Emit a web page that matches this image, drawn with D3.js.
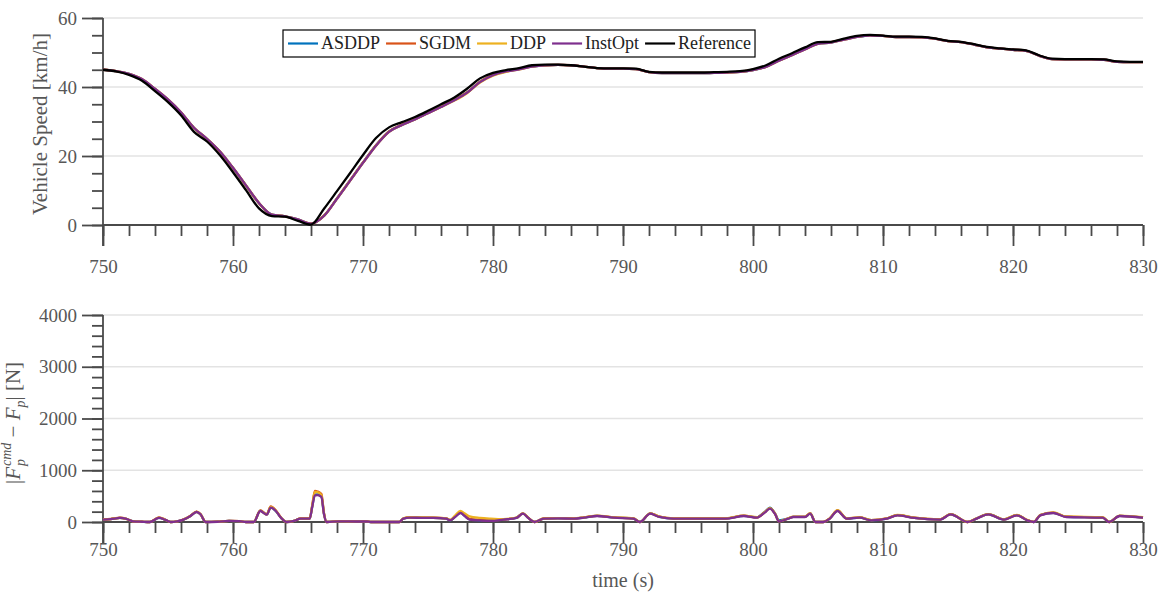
<!DOCTYPE html>
<html>
<head>
<meta charset="utf-8">
<script src="https://cdn.jsdelivr.net/npm/d3@7/dist/d3.min.js"></script>
<style>
  html, body { margin: 0; padding: 0; background: #fff; }
  svg { display: block; font-family: "Liberation Serif", "Times New Roman", serif; }
</style>
</head>
<body>
<svg id="chart" width="1166" height="593"></svg>
<script>
// ---- data ---------------------------------------------------------------
const seriesNames = ["ASDDP", "SGDM", "DDP", "InstOpt", "Reference"];
const seriesColors = ["#0072BD", "#D95319", "#EDB120", "#7E2F8E", "#000000"];

const xTicks = [750, 760, 770, 780, 790, 800, 810, 820, 830];
const speedTicks = [0, 20, 40, 60];
const forceTicks = [0, 1000, 2000, 3000, 4000];

// speed samples, one per second from 750 s to 830 s [km/h]
const speedTime = d3.range(750, 831, 1);

const speedReference = [
  45.0, 44.5, 43.5, 41.8, 38.8, 35.6, 31.8, 27.0, 24.2, 20.2,
  15.3, 10.1, 4.8, 2.6, 2.4, 1.2, 0.1, 4.7, 9.8, 15.0,
  20.3, 25.2, 28.3, 29.8, 31.3, 33.1, 35.0, 36.9, 39.5, 42.5,
  44.1, 44.9, 45.5, 46.3, 46.5, 46.5, 46.3, 45.9, 45.5, 45.4,
  45.4, 45.3, 44.4, 44.2, 44.2, 44.2, 44.2, 44.3, 44.4, 44.6,
  45.2, 46.3, 48.2, 49.8, 51.5, 53.0, 53.1, 54.0, 54.8, 55.1,
  54.9, 54.6, 54.6, 54.5, 54.1, 53.4, 53.1, 52.4, 51.6, 51.2,
  50.9, 50.6, 49.2, 48.2, 48.1, 48.1, 48.1, 48.0, 47.4, 47.3,
  47.3
];
const speedInstOpt = [
  45.0, 44.6, 43.8, 42.3, 39.5, 36.4, 32.7, 28.2, 25.0, 21.3,
  16.6, 11.5, 6.4, 3.0, 2.5, 1.6, 0.4, 2.6, 7.6, 12.8,
  18.0, 23.0, 27.0, 29.0, 30.6, 32.4, 34.2, 36.1, 38.3, 41.4,
  43.4, 44.5, 45.1, 45.9, 46.3, 46.4, 46.3, 45.9, 45.5, 45.3,
  45.3, 45.2, 44.3, 44.0, 44.0, 44.0, 44.0, 44.1, 44.2, 44.4,
  44.9, 45.8, 47.6, 49.2, 50.9, 52.5, 52.9, 53.7, 54.5, 54.9,
  54.8, 54.5, 54.5, 54.4, 54.0, 53.3, 53.0, 52.3, 51.5, 51.1,
  50.8, 50.5, 49.1, 48.1, 48.0, 48.0, 48.0, 47.9, 47.3, 47.2,
  47.2
];
const speedASDDP = [
  45.0, 44.6, 43.8, 42.2, 39.4, 36.3, 32.6, 28.1, 24.9, 21.2,
  16.5, 11.4, 6.3, 3.0, 2.5, 1.6, 0.4, 2.7, 7.7, 12.9,
  18.1, 23.1, 27.1, 29.0, 30.7, 32.5, 34.3, 36.2, 38.4, 41.5,
  43.5, 44.5, 45.2, 45.9, 46.3, 46.4, 46.3, 45.9, 45.5, 45.3,
  45.3, 45.2, 44.3, 44.0, 44.0, 44.0, 44.0, 44.1, 44.2, 44.4,
  44.9, 45.9, 47.7, 49.3, 51.0, 52.6, 52.9, 53.8, 54.5, 54.9,
  54.8, 54.5, 54.5, 54.4, 54.0, 53.3, 53.0, 52.3, 51.5, 51.1,
  50.8, 50.5, 49.1, 48.1, 48.0, 48.0, 48.0, 47.9, 47.3, 47.2,
  47.2
];
const speedSGDM = [
  45.0, 44.6, 43.7, 42.2, 39.4, 36.3, 32.6, 28.1, 24.9, 21.2,
  16.5, 11.4, 6.3, 2.9, 2.5, 1.5, 0.4, 2.7, 7.7, 12.9,
  18.1, 23.1, 27.1, 29.1, 30.7, 32.5, 34.3, 36.2, 38.4, 41.5,
  43.5, 44.6, 45.2, 46.0, 46.3, 46.4, 46.3, 45.9, 45.5, 45.3,
  45.3, 45.2, 44.3, 44.1, 44.1, 44.1, 44.1, 44.1, 44.2, 44.4,
  45.0, 45.9, 47.7, 49.3, 51.0, 52.6, 53.0, 53.8, 54.6, 55.0,
  54.8, 54.5, 54.5, 54.4, 54.0, 53.3, 53.0, 52.3, 51.5, 51.1,
  50.8, 50.5, 49.1, 48.1, 48.0, 48.0, 48.0, 47.9, 47.3, 47.2,
  47.2
];
const speedDDP = [
  45.0, 44.6, 43.8, 42.3, 39.5, 36.4, 32.7, 28.2, 25.0, 21.3,
  16.6, 11.5, 6.4, 3.0, 2.5, 1.6, 0.4, 2.6, 7.6, 12.8,
  18.0, 23.0, 27.0, 29.0, 30.6, 32.4, 34.2, 36.0, 38.2, 41.3,
  43.3, 44.4, 45.1, 45.9, 46.3, 46.4, 46.3, 45.9, 45.5, 45.3,
  45.3, 45.2, 44.3, 44.0, 44.0, 44.0, 44.0, 44.1, 44.2, 44.4,
  44.9, 45.8, 47.6, 49.2, 50.9, 52.5, 52.9, 53.7, 54.5, 54.9,
  54.8, 54.5, 54.5, 54.4, 54.0, 53.3, 53.0, 52.3, 51.5, 51.1,
  50.8, 50.5, 49.1, 48.1, 48.0, 48.0, 48.0, 47.9, 47.3, 47.2,
  47.2
];

// force tracking error |Fp_cmd - Fp| [N], sampled at uneven instants [s]
const forceTime = [
  750.0, 750.6, 751.3, 751.8, 752.3, 753.0, 753.6, 754.3, 754.8, 755.2,
  755.7, 756.2, 756.7, 757.2, 757.5, 757.9, 758.8, 759.7, 760.5, 761.0,
  761.6, 762.1, 762.6, 762.9, 763.3, 763.7, 764.1, 764.7, 765.2, 765.9,
  766.1, 766.3, 766.5, 766.8, 767.0, 767.2, 768.2, 769.5, 770.3, 770.6,
  772.8, 773.1, 773.6, 774.5, 775.4, 776.4, 776.7, 777.1, 777.5, 777.8,
  778.2, 779.0, 779.8, 780.8, 781.8, 782.3, 782.7, 783.2, 783.9, 785.0,
  786.2, 787.0, 788.0, 789.3, 790.8, 791.3, 792.1, 792.8, 793.9, 797.9,
  799.3, 800.3, 800.9, 801.3, 801.7, 802.0, 802.7, 803.1, 804.0, 804.4,
  804.8, 805.4, 805.9, 806.5, 807.2, 808.2, 809.1, 810.3, 811.1, 812.4,
  814.4, 815.2, 816.5, 817.2, 818.1, 819.3, 820.3, 821.1, 821.6, 822.1,
  823.1, 824.1, 826.9, 827.4, 828.2, 830.0
];
const forceASDDP = [
  48, 57, 80, 58, 15, 5, 0, 80, 42, 0,
  12, 48, 112, 196, 148, 0, 6, 22, 14, 0,
  0, 218, 145, 282, 210, 78, 0, 22, 66, 64,
  305, 530, 535, 495, 155, 0, 14, 11, 9, 0,
  0, 67, 86, 82, 80, 66, 34, 104, 180, 125,
  50, 33, 24, 48, 80, 165, 82, 0, 66, 72,
  66, 86, 118, 86, 66, 0, 165, 100, 66, 66,
  120, 90, 195, 275, 160, 30, 66, 98, 98, 165,
  0, 0, 66, 218, 66, 86, 34, 66, 132, 80,
  48, 150, 0, 66, 150, 48, 132, 34, 0, 132,
  178, 100, 86, 0, 118, 86
];
const forceSGDM = [
  50, 58, 82, 62, 14, 6, 0, 88, 44, 0,
  12, 50, 115, 200, 152, 0, 6, 22, 16, 0,
  0, 225, 150, 300, 222, 84, 0, 22, 68, 68,
  330, 600, 590, 540, 170, 0, 15, 12, 11, 0,
  0, 68, 88, 84, 82, 68, 36, 110, 190, 140,
  60, 40, 28, 50, 82, 168, 84, 0, 68, 74,
  68, 88, 120, 88, 68, 0, 168, 102, 68, 68,
  122, 88, 190, 270, 158, 14, 68, 100, 100, 168,
  0, 0, 68, 222, 68, 88, 36, 68, 134, 82,
  50, 152, 0, 68, 152, 50, 134, 36, 0, 134,
  180, 102, 88, 0, 120, 88
];
const forceDDP = [
  49, 57, 80, 61, 14, 6, 0, 84, 42, 0,
  11, 48, 112, 198, 150, 0, 6, 21, 15, 0,
  0, 220, 146, 290, 218, 82, 0, 21, 67, 66,
  320, 580, 575, 520, 160, 0, 14, 11, 10, 0,
  0, 70, 92, 90, 86, 72, 40, 130, 213, 170,
  110, 80, 65, 55, 84, 166, 84, 0, 70, 76,
  70, 90, 122, 90, 70, 0, 166, 102, 70, 70,
  124, 92, 188, 268, 156, 14, 72, 104, 104, 172,
  0, 0, 70, 228, 72, 90, 38, 70, 136, 84,
  52, 154, 0, 70, 154, 52, 136, 38, 0, 136,
  184, 106, 92, 0, 124, 92
];
const forceInstOpt = [
  46, 55, 78, 60, 13, 5, 0, 78, 40, 0,
  10, 46, 110, 193, 150, 0, 5, 20, 15, 0,
  0, 213, 142, 277, 213, 80, 0, 20, 65, 65,
  300, 516, 520, 484, 150, 0, 13, 10, 10, 0,
  0, 65, 84, 80, 78, 65, 32, 100, 174, 120,
  46, 30, 20, 46, 78, 161, 80, 0, 65, 70,
  65, 84, 116, 84, 65, 0, 161, 97, 65, 65,
  116, 84, 180, 258, 150, 10, 65, 97, 97, 161,
  0, 0, 65, 213, 65, 84, 32, 65, 129, 78,
  46, 148, 0, 65, 148, 46, 129, 32, 0, 129,
  174, 97, 84, 0, 116, 84
];

// ---- layout ---------------------------------------------------------------
const svg = d3.select("#chart");
const AX = "#4a4a4a";
const TXT = "#575757";
const GRID = "#e3e3e3";
const MAJOR = 21, MINOR = 11;
const FONT = "'Liberation Serif', 'Times New Roman', serif";

const x = d3.scaleLinear().domain([750, 830]).range([103, 1143]);
const ySpeed = d3.scaleLinear().domain([0, 60]).range([225, 18]);
const yForce = d3.scaleLinear().domain([0, 4000]).range([522, 315]);

function drawPanel(y, yMajor, yMinorStep, xPad) {
  const g = svg.append("g");
  const [y0, y1] = y.domain();
  const base = y(y0);

  // horizontal grid
  g.append("g").selectAll("line")
    .data(yMajor.filter(v => v !== y0))
    .join("line")
    .attr("x1", x.range()[0]).attr("x2", x.range()[1])
    .attr("y1", d => y(d)).attr("y2", d => y(d))
    .attr("stroke", GRID).attr("stroke-width", 1.5);

  // minor ticks
  g.append("g")
    .attr("transform", `translate(0,${base})`)
    .call(d3.axisBottom(x).tickValues(d3.range(750, 831, 2)).tickSize(MINOR).tickSizeOuter(0).tickFormat(""));
  g.append("g")
    .attr("transform", `translate(${x.range()[0]},0)`)
    .call(d3.axisLeft(y).tickValues(d3.range(y0, y1 + 1e-9, yMinorStep)).tickSize(MINOR).tickSizeOuter(0).tickFormat(""));

  // major ticks and labels
  g.append("g")
    .attr("transform", `translate(0,${base})`)
    .call(d3.axisBottom(x).tickValues(xTicks).tickSize(MAJOR).tickSizeOuter(0).tickPadding(xPad).tickFormat(d3.format("d")));
  g.append("g")
    .attr("transform", `translate(${x.range()[0]},0)`)
    .call(d3.axisLeft(y).tickValues(yMajor).tickSize(MAJOR).tickSizeOuter(0).tickPadding(5).tickFormat(d3.format("d")));

  g.selectAll(".domain").remove();
  g.selectAll(".tick line").attr("stroke", AX).attr("stroke-width", 1.8);
  g.selectAll(".tick text").attr("fill", TXT)
    .style("font-family", FONT).style("font-size", "19px");

  // axis lines
  g.append("line")
    .attr("x1", x.range()[0]).attr("x2", x.range()[1])
    .attr("y1", base).attr("y2", base)
    .attr("stroke", AX).attr("stroke-width", 1.8);
  g.append("line")
    .attr("x1", x.range()[0]).attr("x2", x.range()[0])
    .attr("y1", y(y1)).attr("y2", base + MAJOR)
    .attr("stroke", AX).attr("stroke-width", 1.8);
  return g;
}

drawPanel(ySpeed, speedTicks, 5, 14);
drawPanel(yForce, forceTicks, 200, 0);

// ---- lines ----------------------------------------------------------------
const speedSeries = [speedASDDP, speedSGDM, speedDDP, speedInstOpt, speedReference];
const forceSeries = [forceASDDP, forceSGDM, forceDDP, forceInstOpt];

const lineSpeed = d3.line()
  .x((d, i) => x(speedTime[i]))
  .y(d => ySpeed(d))
  .curve(d3.curveMonotoneX);
const lineForce = d3.line()
  .x((d, i) => x(forceTime[i]))
  .y(d => yForce(d))
  .curve(d3.curveMonotoneX);

svg.append("g").selectAll("path")
  .data(speedSeries)
  .join("path")
  .attr("d", d => lineSpeed(d))
  .attr("fill", "none")
  .attr("stroke", (d, i) => seriesColors[i])
  .attr("stroke-width", 2.3)
  .attr("stroke-linejoin", "round");

svg.append("g").selectAll("path")
  .data(forceSeries)
  .join("path")
  .attr("d", d => lineForce(d))
  .attr("fill", "none")
  .attr("stroke", (d, i) => seriesColors[i])
  .attr("stroke-width", 2.3)
  .attr("stroke-linejoin", "round");

// ---- axis titles ----------------------------------------------------------
svg.append("text")
  .attr("transform", "translate(47,124) rotate(-90)")
  .attr("text-anchor", "middle")
  .attr("fill", TXT)
  .style("font-size", "21px")
  .text("Vehicle Speed [km/h]");

svg.append("text")
  .attr("x", 623).attr("y", 587)
  .attr("text-anchor", "middle")
  .attr("fill", TXT)
  .style("font-size", "20px")
  .text("time (s)");

// |F_p^cmd - F_p| [N]
(function forceLabel() {
  const big = 21, small = 14;
  const probe = svg.append("text").style("font-size", small + "px").style("font-style", "italic");
  const wCmd = probe.text("cmd").node().getComputedTextLength();
  const wP = probe.text("p").node().getComputedTextLength();
  probe.remove();

  const t = svg.append("text")
    .attr("transform", "translate(20,423) rotate(-90)")
    .attr("text-anchor", "middle")
    .attr("fill", TXT)
    .style("font-size", big + "px");
  t.append("tspan").text("|");
  t.append("tspan").style("font-style", "italic").text("F");
  t.append("tspan").style("font-style", "italic").style("font-size", small + "px")
    .attr("dx", 1).attr("dy", -9).text("cmd");
  t.append("tspan").style("font-style", "italic").style("font-size", small + "px")
    .attr("dx", -wCmd).attr("dy", 14).text("p");
  t.append("tspan").attr("dx", wCmd - wP).attr("dy", -5).text(" \u2212 ");
  t.append("tspan").style("font-style", "italic").text("F");
  t.append("tspan").style("font-style", "italic").style("font-size", small + "px")
    .attr("dy", 5).text("p");
  t.append("tspan").attr("dy", -5).text("| [N]");
})();

// ---- legend ---------------------------------------------------------------
(function legend() {
  const g = svg.append("g");
  const box = g.append("rect")
    .attr("fill", "#fff").attr("stroke", "#000").attr("stroke-width", 1.2);
  const lineLen = 30, gapText = 3, gapItem = 6, padL = 5, padR = 4;
  let cx = 283 + padL;
  const cy = 43.5;
  seriesNames.forEach((name, i) => {
    g.append("line")
      .attr("x1", cx).attr("x2", cx + lineLen)
      .attr("y1", cy).attr("y2", cy)
      .attr("stroke", seriesColors[i]).attr("stroke-width", 2.2);
    cx += lineLen + gapText;
    const tx = g.append("text")
      .attr("x", cx).attr("y", cy)
      .attr("dy", "0.33em")
      .attr("fill", "#222")
      .style("font-size", "18px")
      .text(name);
    cx += tx.node().getComputedTextLength() + gapItem;
  });
  box.attr("x", 283).attr("y", 30)
    .attr("width", cx - gapItem + padR - 283).attr("height", 27);
})();
</script>
</body>
</html>
